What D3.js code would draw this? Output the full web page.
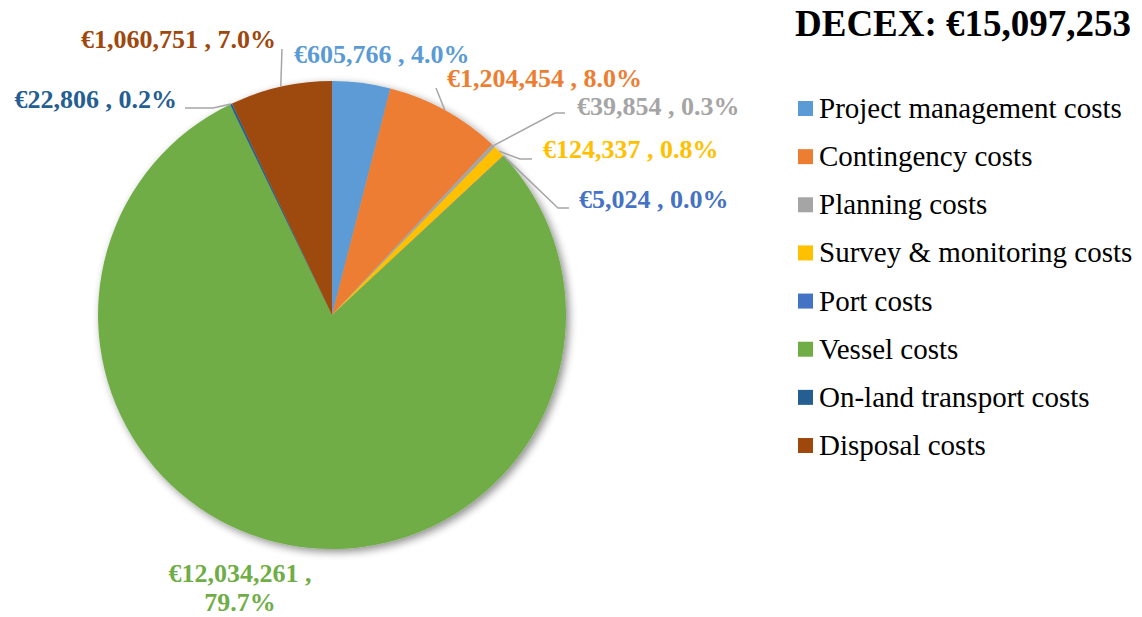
<!DOCTYPE html>
<html>
<head>
<meta charset="utf-8">
<script src="https://cdn.jsdelivr.net/npm/d3@7"></script>
<style>
  html, body { margin: 0; padding: 0; background: #fff; }
  svg { display: block; }
</style>
</head>
<body>
<svg id="chart" width="1142" height="617"></svg>
<script>
// ---- data ----
const categories = ["Project management costs", "Contingency costs", "Planning costs",
  "Survey & monitoring costs", "Port costs", "Vessel costs", "On-land transport costs", "Disposal costs"];
const values = [605766, 1204454, 39854, 124337, 5024, 12034261, 22806, 1060751];
const valueLabels = ["€605,766", "€1,204,454", "€39,854", "€124,337", "€5,024", "€12,034,261", "€22,806", "€1,060,751"];
const percentLabels = ["4.0%", "8.0%", "0.3%", "0.8%", "0.0%", "79.7%", "0.2%", "7.0%"];
const colors = ["#5B9BD5", "#ED7D31", "#A5A5A5", "#FFC000", "#4472C4", "#70AD47", "#255E91", "#9E480E"];
const titleText = "DECEX: €15,097,253";

// ---- layout (not data) ----
const cx = 332, cy = 315, R = 234;
const labelLayout = [
  { x: 294, y: 63, anchor: "start", line: null },
  { x: 447, y: 87, anchor: "start", line: [[436, 88]] },
  { x: 577, y: 115, anchor: "start", line: [[555, 113], [565, 113]] },
  { x: 543, y: 158, anchor: "start", line: [[520, 159], [532, 159]] },
  { x: 579, y: 208, anchor: "start", line: [[558, 208], [569, 208]] },
  { x: 240, y: 582, anchor: "middle", line: null, second: 611 },
  { x: 177, y: 108, anchor: "end", line: [[213, 108], [185, 108]] },
  { x: 276, y: 48, anchor: "end", line: [[282, 49]] }
];
const serif = "'Liberation Serif', 'Times New Roman', Times, serif";

const svg = d3.select("#chart");

// shadow filter
const defs = svg.append("defs");
const f = defs.append("filter").attr("id", "shadow").attr("x", "-20%").attr("y", "-20%").attr("width", "140%").attr("height", "140%");
f.append("feGaussianBlur").attr("in", "SourceAlpha").attr("stdDeviation", 4).attr("result", "blur");
f.append("feOffset").attr("in", "blur").attr("dx", 3).attr("dy", 3).attr("result", "off");
f.append("feComponentTransfer").attr("in", "off").attr("result", "sh")
  .append("feFuncA").attr("type", "linear").attr("slope", 0.45);
const fm = f.append("feMerge");
fm.append("feMergeNode").attr("in", "sh");
fm.append("feMergeNode").attr("in", "SourceGraphic");

const color = d3.scaleOrdinal().domain(categories).range(colors);
const pie = d3.pie().sort(null).value(d => d.value);
const data = categories.map((c, i) => ({ cat: c, value: values[i], i }));
const arcs = pie(data);
const arc = d3.arc().innerRadius(0).outerRadius(R);

const g = svg.append("g").attr("transform", `translate(${cx},${cy})`);
g.append("g").attr("filter", "url(#shadow)")
  .selectAll("path").data(arcs).enter().append("path")
  .attr("d", arc)
  .attr("fill", d => color(d.data.cat));

// leader lines from slice edge midpoints
arcs.forEach((a, i) => {
  const L = labelLayout[i];
  if (!L.line) return;
  const mid = (a.startAngle + a.endAngle) / 2;
  const px = cx + R * Math.sin(mid), py = cy - R * Math.cos(mid);
  const pts = [[px, py]].concat(L.line);
  svg.append("path")
    .attr("d", d3.line()(pts))
    .attr("fill", "none")
    .attr("stroke", "#A6A6A6")
    .attr("stroke-width", 1.5);
});

// data labels
arcs.forEach((a, i) => {
  const L = labelLayout[i];
  const t = svg.append("text")
    .attr("x", L.x).attr("y", L.y)
    .attr("text-anchor", L.anchor)
    .attr("font-family", serif)
    .attr("font-weight", "bold")
    .attr("font-size", 26)
    .attr("fill", colors[i]);
  if (L.second) {
    t.text(valueLabels[i] + " ,");
    svg.append("text")
      .attr("x", L.x).attr("y", L.second)
      .attr("text-anchor", L.anchor)
      .attr("font-family", serif)
      .attr("font-weight", "bold")
      .attr("font-size", 26)
      .attr("fill", colors[i])
      .text(percentLabels[i]);
  } else {
    t.text(valueLabels[i] + " , " + percentLabels[i]);
  }
});

// title
svg.append("text")
  .attr("x", 795).attr("y", 36)
  .attr("font-family", serif)
  .attr("font-weight", "bold")
  .attr("font-size", 37)
  .attr("fill", "#000")
  .text(titleText);

// legend
const leg = svg.append("g");
const legY = d3.scalePoint().domain(categories).range([118, 455]);
categories.forEach((c, i) => {
  leg.append("rect")
    .attr("x", 798).attr("y", legY(c) - 17)
    .attr("width", 15).attr("height", 15)
    .attr("fill", color(c));
  leg.append("text")
    .attr("x", 819).attr("y", legY(c))
    .attr("font-family", serif)
    .attr("font-size", 29)
    .attr("fill", "#000")
    .text(c);
});
</script>
</body>
</html>
